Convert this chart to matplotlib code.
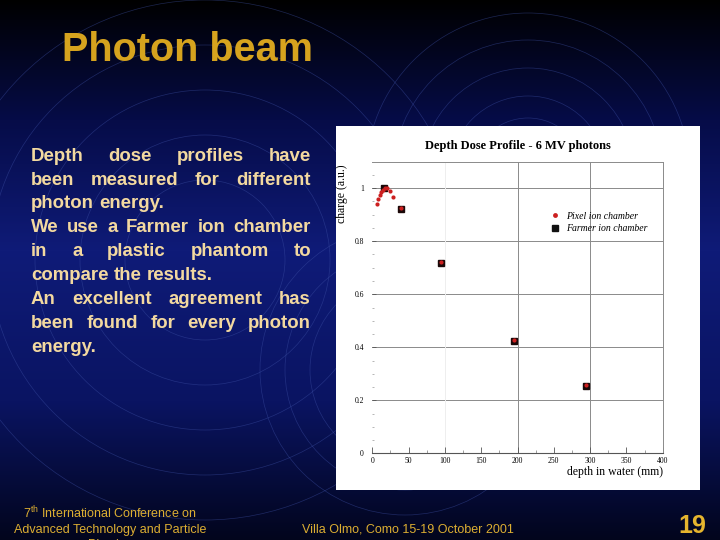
import numpy as np
import matplotlib
matplotlib.use("Agg")
import matplotlib.pyplot as plt
from matplotlib.patches import Circle, Rectangle
from matplotlib.lines import Line2D
from matplotlib.colors import to_rgb

# data
pixel_depth = [7, 8.5, 10, 12, 14.5, 17, 20, 25, 29, 40, 95, 195, 295]
pixel_charge = [0.94, 0.958, 0.973, 0.986, 0.995, 1.0, 0.999, 0.988, 0.968,
                0.925, 0.723, 0.429, 0.256]
farmer_depth = [16, 40, 95, 195, 295]
farmer_charge = [1.0, 0.922, 0.719, 0.425, 0.253]

x_ticks = [0, 50, 100, 150, 200, 250, 300, 350, 400]
y_ticks = [0, 0.2, 0.4, 0.6, 0.8, 1.0]
y_ticklabels = ["0", "0.2", "0.4", "0.6", "0.8", "1"]

body_lines = [
    ("Depth dose profiles have", True),
    ("been measured for different", True),
    ("photon energy.", False),
    ("We use a Farmer ion chamber", True),
    ("in a plastic phantom to", True),
    ("compare the results.", False),
    ("An excellent agreement has", True),
    ("been found for every photon", True),
    ("energy.", False),
]

plt.rcParams['mathtext.fontset'] = 'custom'
plt.rcParams['mathtext.rm'] = 'Liberation Sans'

fig = plt.figure(figsize=(7.2, 5.4), dpi=100)

# background axes in pixel units
bg = fig.add_axes([0, 0, 1, 1])
bg.set_xlim(0, 720)
bg.set_ylim(540, 0)
bg.axis('off')

stops = [(0, '#000000'), (120, '#060c48'), (250, '#0f1b78'),
         (400, '#0a1462'), (540, '#02051c')]
rows = np.arange(540)
cols = np.array([to_rgb(c) for _, c in stops])
pos = [p for p, _ in stops]
grad = np.stack([np.interp(rows, pos, cols[:, k]) for k in range(3)], axis=1)
grad = np.repeat(grad[:, None, :], 2, axis=1)
bg.imshow(grad, extent=[0, 720, 540, 0], aspect='auto', zorder=0)

ring = dict(fill=False, edgecolor='#3f52a8', lw=0.5, alpha=0.45, zorder=1)
for r in [80, 125, 170, 215, 260]:
    bg.add_patch(Circle((205, 260), r, **ring))
for r in [57, 79, 107, 135, 162]:
    bg.add_patch(Circle((528, 175), r, **ring))
for r in [95, 120, 145]:
    bg.add_patch(Circle((405, 370), r, **ring))

bg.add_patch(Rectangle((336, 126), 364, 364, facecolor='white',
                       edgecolor='none', zorder=2))

bg.text(62, 61, "Photon beam", color='#d6a31e', fontsize=28.5,
        fontweight='bold', family='Liberation Sans', va='baseline', zorder=3)

# justified body text
renderer = fig.canvas.get_renderer()
left, right = 31, 311
body_size = 13.4
sp = bg.text(0, 0, "a a", fontsize=body_size, fontweight='bold',
             family='Liberation Sans')
sp2 = bg.text(0, 0, "aa", fontsize=body_size, fontweight='bold',
              family='Liberation Sans')
space_w = sp.get_window_extent(renderer).width - sp2.get_window_extent(renderer).width
sp.remove()
sp2.remove()
for i, (line, justify) in enumerate(body_lines):
    y = 160.7 + i * 23.9
    words = line.split(' ')
    texts = [bg.text(0, y, w, color='#f3d9a0', fontsize=body_size, fontweight='bold',
                     family='Liberation Sans', va='baseline', zorder=3)
             for w in words]
    widths = [t.get_window_extent(renderer).width for t in texts]
    if justify and len(words) > 1:
        gap = (right - left - sum(widths)) / (len(words) - 1)
    else:
        gap = space_w
    x = left
    for t, w in zip(texts, widths):
        t.set_x(x)
        x += w + gap

foot = dict(color='#dcae32', fontsize=9, family='Liberation Sans',
            ha='center', va='baseline', zorder=3)
bg.text(110, 518, "7$^{\\rm th}$ International Conference on", **foot)
bg.text(110, 533, "Advanced Technology and Particle", **foot)
bg.text(110, 548, "Physics", **foot)
bg.text(408, 533, "Villa Olmo, Como 15-19 October 2001", **foot)
bg.text(706, 533, "19", color='#e6b52e', fontsize=18, fontweight='bold',
        family='Liberation Sans', ha='right', va='baseline', zorder=3)

# the chart
ax = fig.add_axes([372.3 / 720, 1 - 453.3 / 540, 290.4 / 720, 291.6 / 540])
ax.set_facecolor('none')
ax.set_xlim(0, 400)
ax.set_ylim(0, 1.1)

ax.set_xticks(x_ticks)
ax.set_xticklabels([str(v) for v in x_ticks])
ax.set_xticks(np.arange(25, 400, 50), minor=True)
ax.set_yticks(y_ticks)
ax.set_yticklabels(y_ticklabels)
ax.set_yticks(np.arange(0.05, 1.1, 0.05), minor=True)
ax.tick_params(axis='x', which='major', direction='in', length=4, width=0.6,
               color='#555555', labelsize=5.5, pad=3)
ax.tick_params(axis='x', which='minor', direction='in', length=2, width=0.5,
               color='#777777')
ax.tick_params(axis='y', which='major', direction='in', length=3, width=0.6,
               color='#555555', labelsize=5.5, pad=6)
ax.tick_params(axis='y', which='minor', direction='in', length=1.5, width=0.5,
               color='#999999')
for lab in ax.get_xticklabels() + ax.get_yticklabels():
    lab.set_family('Liberation Serif')

for y in [0.2, 0.4, 0.6, 0.8, 1.0]:
    ax.axhline(y, color='#8a8a8a', lw=0.7, zorder=1)
ax.axvline(100, color='#eeeeee', lw=0.7, zorder=1)
for x in [200, 300]:
    ax.axvline(x, color='#8a8a8a', lw=0.7, zorder=1)

ax.spines['bottom'].set_color('#555555')
ax.spines['bottom'].set_linewidth(0.8)
ax.spines['left'].set_visible(False)
ax.spines['top'].set_color('#8a8a8a')
ax.spines['top'].set_linewidth(0.7)
ax.spines['right'].set_color('#8a8a8a')
ax.spines['right'].set_linewidth(0.7)

ax.plot(farmer_depth, farmer_charge, ls='none', marker='s', ms=5,
        color='#1a0808', zorder=3)
ax.plot(pixel_depth, pixel_charge, ls='none', marker='o', ms=3,
        color='#cc2020', mec='none', zorder=4)

ax.set_title("Depth Dose Profile - 6 MV photons", fontsize=9,
             fontweight='bold', family='Liberation Serif', pad=9)
ax.text(-0.104, 0.99, "charge (a.u.)", rotation=90, ha='center', va='top',
        fontsize=8.5, family='Liberation Serif', transform=ax.transAxes)
ax.text(1.0, -0.064, "depth in water (mm)", ha='right', va='center',
        fontsize=8.5, family='Liberation Serif', transform=ax.transAxes)

handles = [Line2D([], [], ls='none', marker='o', ms=3.5, color='#cc2020', mec='none'),
           Line2D([], [], ls='none', marker='s', ms=4, color='#111111')]
leg = ax.legend(handles, ["Pixel ion chamber", "Farmer ion chamber"],
                loc='center left', bbox_to_anchor=(0.585, 0.792), frameon=False,
                handlelength=0.8, handletextpad=0.8, labelspacing=0.35,
                prop={'family': 'Liberation Serif', 'style': 'italic', 'size': 7})

fig.savefig("out.png", dpi=100)
